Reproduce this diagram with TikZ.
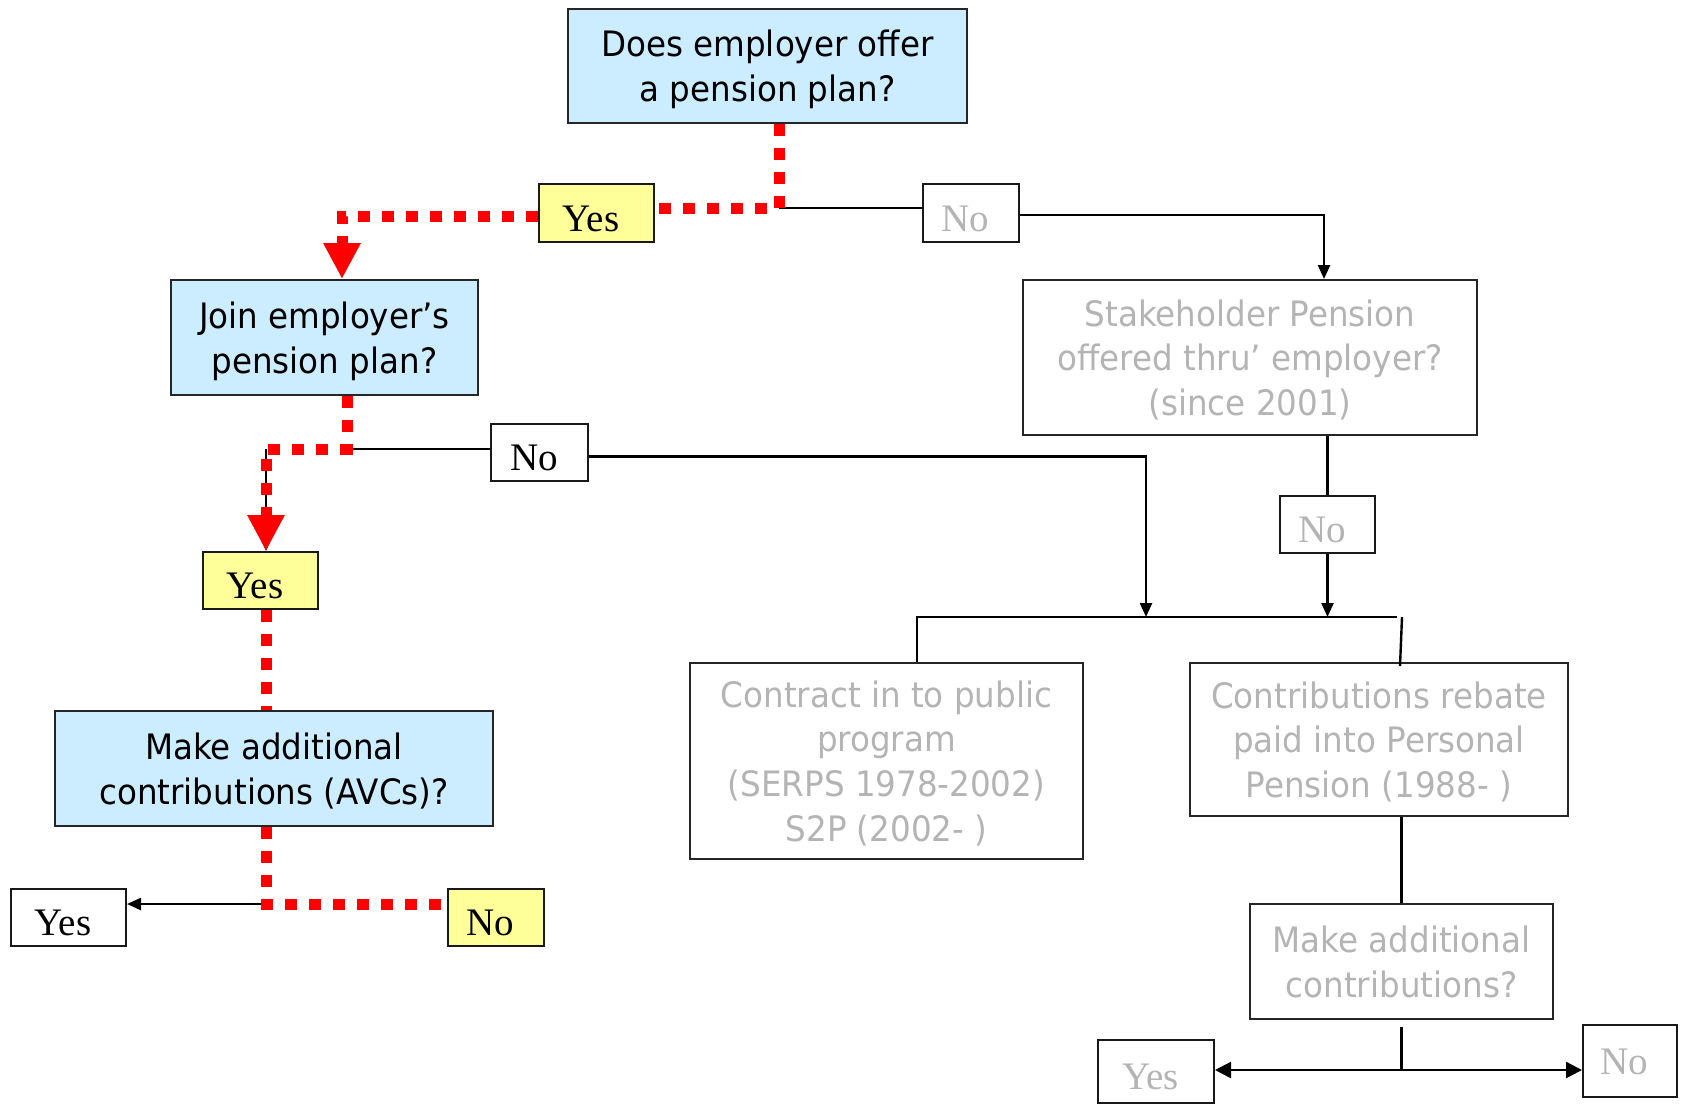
\documentclass[tikz,border=0pt]{standalone}
\usepackage{fontspec}
\usepackage{tikz}
\usetikzlibrary{arrows.meta,calc}
\newfontfamily\tah[FakeStretch=0.93]{DejaVu Sans}
\newfontfamily\tms{Liberation Serif}
\definecolor{skyblue}{HTML}{CCECFF}
\definecolor{paleyellow}{HTML}{FFFF99}
\definecolor{greytxt}{HTML}{B4B4B4}
\definecolor{redpath}{HTML}{FF0000}
\tikzset{
  qbox/.style={draw=black!85, line width=1pt, fill=skyblue, align=center, inner sep=0pt,
    text depth=0pt, font=\tah\fontsize{17.5}{22.4}\selectfont},
  gbox/.style={qbox, fill=white, text=greytxt},
  ans/.style={draw=black!90, line width=1pt, fill=white, inner sep=0pt,
    text height=18pt, text depth=0pt, execute at begin node=\hspace*{-5.4pt},
    font=\tms\fontsize{19.5}{22}\selectfont},
  yans/.style={ans, fill=paleyellow},
  gans/.style={ans, text=greytxt},
  link/.style={line width=1.2pt},
  arr/.style={link, -{Triangle[width=6pt,length=7pt]}},
  bigarr/.style={link, -{Triangle[width=8pt,length=8pt]}},
  redline/.style={redpath, line width=5.5pt, dash pattern=on 6pt off 6pt},
  redarr/.style={redline, -{Triangle[width=17.5pt,length=18pt]}}
}
\begin{document}
\begin{tikzpicture}[x=0.5pt,y=-0.5pt]
\fill[white] (0,0) rectangle (1685,1104);
\useasboundingbox (0,0) rectangle (1685,1104);
\node[qbox, minimum width=199.5pt, minimum height=57pt] (offer) at (767.5,66) {Does employer offer\\a pension plan?};
\node[yans, minimum width=57.5pt, minimum height=29pt] (yesA) at (596.5,213) {Yes};
\node[gans, minimum width=48pt, minimum height=29pt] (noA) at (971,213) {No};
\node[qbox, minimum width=153.5pt, minimum height=57.5pt] (join) at (324.5,337.5) {Join employer’s\\pension plan?};
\node[gbox, minimum width=227pt, minimum height=77.5pt] (stake) at (1250,357.5) {Stakeholder Pension\\offered thru’ employer?\\(since 2001)};
\node[ans, minimum width=48.5pt, minimum height=28.5pt] (noB) at (539.5,452.5) {No};
\node[yans, minimum width=57.5pt, minimum height=28.5pt] (yesB) at (260.5,580.5) {Yes};
\node[gans, minimum width=47.5pt, minimum height=28.5pt] (noC) at (1327.5,524.5) {No};
\node[qbox, minimum width=219pt, minimum height=57.5pt] (avc) at (274,768.5) {Make additional\\contributions (AVCs)?};
\node[gbox, minimum width=196.5pt, minimum height=98pt, text depth=-1.5pt] (contract) at (886.5,761) {Contract in to public\\program\\(SERPS 1978-2002)\\S2P (2002- )};
\node[gbox, minimum width=189pt, minimum height=76.5pt, text depth=-1.5pt] (rebate) at (1379,739.5) {Contributions rebate\\paid into Personal\\Pension (1988- )};
\node[gbox, minimum width=151.5pt, minimum height=57.5pt] (more) at (1401.5,961.5) {Make additional\\contributions?};
\node[ans, minimum width=57.5pt, minimum height=28.5pt] (yesD) at (68.5,917.5) {Yes};
\node[yans, minimum width=48pt, minimum height=28.5pt] (noD) at (496,917.5) {No};
\node[gans, minimum width=58pt, minimum height=31.5pt] (yesE) at (1156,1071.5) {Yes};
\node[gans, minimum width=47pt, minimum height=36pt, text height=13pt] (noE) at (1630,1061) {No};

\coordinate (kA) at (779,208);
\coordinate (kB) at (347,449);
\coordinate (kC) at (266,449);
\coordinate (kD) at (266,904);
\coordinate (barL) at (917,617);
\coordinate (barR) at (1397,617);
\coordinate (inL) at (1146,617);
\coordinate (kF) at (1401.5,1070);

\draw[link] (kA) -- (kA -| noA.west);
\draw[arr] ($(noA.east)+(0,2)$) -| ($(stake.north)+(74,0)$);
\draw[link] (kB) -- (kB -| noB.west);
\draw[arr] (kC) -- (kC |- yesB.north);
\draw[arr] (kD) -- (kD -| yesD.east);
\draw[arr] ($(noB.east)+(0,4)$) -| (inL);
\draw[link] (stake.south -| noC) -- (noC.north);
\draw[arr] (noC.south) -- (noC.south |- barL);
\draw[link] (contract.north -| barL) -- (barL) -- (barR);
\draw[link] ($(barR)+(5,0)$) -- ($(rebate.north)+(21,4)$);
\draw[link] (rebate.south -| more.north) -- (more.north);
\draw[link] ($(more.south)+(0,7)$) -- (kF);
\draw[bigarr] (kF) -- (kF -| yesE.east);
\draw[bigarr] (kF) -- (kF -| noE.west);

\draw[redline] (offer.south -| kA) -- (kA) -- (kA -| yesA.east);
\draw[redarr] ($(yesA.west)+(0,3)$) -| ($(join.north)+(17.5,0)$);
\draw[redarr] (join.south -| kB) -- (kB) -- (kC) -- (kC |- yesB.north);
\draw[redline] (yesB.south -| kC) -- (kC |- avc.north);
\draw[redline] (avc.south -| kD) -- (kD) -- (kD -| noD.west);
\end{tikzpicture}
\end{document}
